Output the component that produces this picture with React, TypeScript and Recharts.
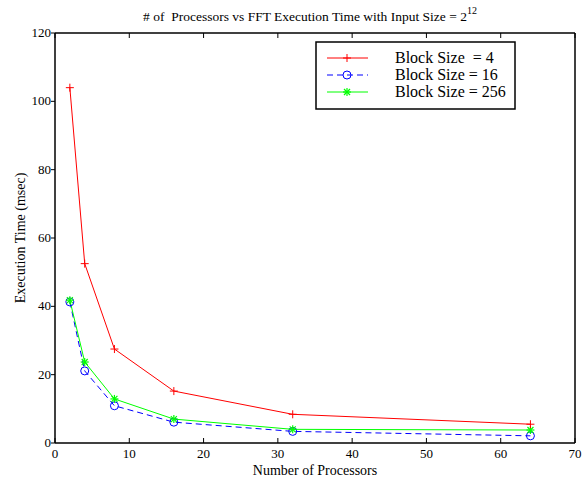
import React from 'react'
import {
  LineChart,
  Line,
  XAxis,
  YAxis,
  Customized,
} from 'recharts'

const processors = [2, 4, 8, 16, 32, 64]
const block4 = [104, 52.5, 27.5, 15.2, 8.4, 5.5]
const block16 = [41.3, 21.1, 10.9, 6.1, 3.4, 2.1]
const block256 = [41.8, 23.7, 12.9, 7.0, 4.0, 3.8]
const xTicks = [0, 10, 20, 30, 40, 50, 60, 70]
const yTicks = [0, 20, 40, 60, 80, 100, 120]

const chartData = processors.map((p, i) => ({
  p,
  b4: block4[i],
  b16: block16[i],
  b256: block256[i],
}))

const FONT = '"Liberation Serif", "Times New Roman", serif'

const PlusDot = (props: any) => {
  const { cx, cy } = props
  if (cx == null || cy == null) return null
  return (
    <g stroke="#ff0000" strokeWidth={1}>
      <line x1={cx - 4} x2={cx + 4} y1={cy} y2={cy} />
      <line x1={cx} x2={cx} y1={cy - 4} y2={cy + 4} />
    </g>
  )
}

const CircleDot = (props: any) => {
  const { cx, cy } = props
  if (cx == null || cy == null) return null
  return <circle cx={cx} cy={cy} r={4} fill="none" stroke="#0000ff" strokeWidth={1} />
}

const StarDot = (props: any) => {
  const { cx, cy } = props
  if (cx == null || cy == null) return null
  return (
    <g stroke="#00ff00" strokeWidth={1.2}>
      <line x1={cx - 4} x2={cx + 4} y1={cy} y2={cy} />
      <line x1={cx} x2={cx} y1={cy - 4} y2={cy + 4} />
      <line x1={cx - 3} x2={cx + 3} y1={cy - 3} y2={cy + 3} />
      <line x1={cx - 3} x2={cx + 3} y1={cy + 3} y2={cy - 3} />
    </g>
  )
}

const BottomTick = (props: any) => {
  const { x, y, payload } = props
  return (
    <g>
      <line x1={x} x2={x} y1={y} y2={y - 5} stroke="#000" strokeWidth={1} />
      <text x={x} y={y + 15} textAnchor="middle" fontFamily={FONT} fontSize={13} fill="#000">
        {payload.value}
      </text>
    </g>
  )
}

const TopTick = (props: any) => {
  const { x, y } = props
  return <line x1={x} x2={x} y1={y} y2={y + 5} stroke="#000" strokeWidth={1} />
}

const LeftTick = (props: any) => {
  const { x, y, payload } = props
  return (
    <g>
      <line x1={x - 4} x2={x} y1={y} y2={y} stroke="#000" strokeWidth={1} />
      <text x={x - 4} y={y + 4} textAnchor="end" fontFamily={FONT} fontSize={13} fill="#000">
        {payload.value}
      </text>
    </g>
  )
}

const RightTick = (props: any) => {
  const { x, y } = props
  return <line x1={x} x2={x - 5} y1={y} y2={y} stroke="#000" strokeWidth={1} />
}

const legendItems = [
  { label: 'Block Size  = 4', color: '#ff0000', dash: undefined, marker: 'plus' },
  { label: 'Block Size = 16', color: '#0000ff', dash: '6 4', marker: 'circle' },
  { label: 'Block Size = 256', color: '#00ff00', dash: undefined, marker: 'star' },
]

const Overlay = () => (
  <g fontFamily={FONT} fill="#000">
    <text x={310} y={21} textAnchor="middle" fontSize={13.5}>
      <tspan style={{ whiteSpace: 'pre' }}>{'# of  Processors vs FFT Execution Time with Input Size = 2'}</tspan>
      <tspan fontSize={10} dy={-7}>12</tspan>
    </text>
    <text x={315} y={475} textAnchor="middle" fontSize={14}>
      Number of Processors
    </text>
    <text x={25} y={238} textAnchor="middle" fontSize={14} transform="rotate(-90 25 238)">
      Execution Time (msec)
    </text>
    <rect x={316} y={42} width={199} height={67} fill="#fff" stroke="#000" strokeWidth={1.5} />
    {legendItems.map((it, i) => {
      const cy = 58 + i * 17
      return (
        <g key={it.label}>
          <line x1={327} x2={368} y1={cy} y2={cy} stroke={it.color} strokeWidth={1} strokeDasharray={it.dash} />
          {it.marker === 'plus' && <PlusDot cx={347} cy={cy} />}
          {it.marker === 'circle' && <CircleDot cx={347} cy={cy} />}
          {it.marker === 'star' && <StarDot cx={347} cy={cy} />}
          <text x={395} y={cy + 5} fontSize={16} style={{ whiteSpace: 'pre' }}>
            {it.label}
          </text>
        </g>
      )
    })}
  </g>
)

export default function App() {
  return (
    <div style={{ position: 'absolute', left: 0, top: 0, background: '#fff' }}>
      <LineChart
        width={586}
        height={479}
        data={chartData}
        margin={{ top: 32, right: 10, bottom: 35, left: 54 }}
      >
        <XAxis
          xAxisId="bottom"
          dataKey="p"
          type="number"
          domain={[0, 70]}
          ticks={xTicks}
          height={1}
          tickSize={0}
          tickMargin={0}
          tick={<BottomTick />}
          tickLine={false}
          axisLine={{ stroke: '#000', strokeWidth: 1.5 }}
        />
        <XAxis
          xAxisId="top"
          orientation="top"
          dataKey="p"
          type="number"
          domain={[0, 70]}
          ticks={xTicks}
          height={1}
          tickSize={0}
          tickMargin={0}
          tick={<TopTick />}
          tickLine={false}
          axisLine={{ stroke: '#000', strokeWidth: 1.5 }}
        />
        <YAxis
          yAxisId="left"
          type="number"
          domain={[0, 120]}
          ticks={yTicks}
          width={1}
          tickSize={0}
          tickMargin={0}
          tick={<LeftTick />}
          tickLine={false}
          axisLine={{ stroke: '#000', strokeWidth: 1.5 }}
        />
        <YAxis
          yAxisId="right"
          orientation="right"
          type="number"
          domain={[0, 120]}
          ticks={yTicks}
          width={1}
          tickSize={0}
          tickMargin={0}
          tick={<RightTick />}
          tickLine={false}
          axisLine={{ stroke: '#000', strokeWidth: 1.5 }}
        />
        <Line
          xAxisId="bottom"
          yAxisId="left"
          dataKey="b16"
          stroke="#0000ff"
          strokeWidth={1}
          strokeDasharray="6 4"
          dot={<CircleDot />}
          isAnimationActive={false}
        />
        <Line
          xAxisId="bottom"
          yAxisId="left"
          dataKey="b256"
          stroke="#00ff00"
          strokeWidth={1}
          dot={<StarDot />}
          isAnimationActive={false}
        />
        <Line
          xAxisId="bottom"
          yAxisId="left"
          dataKey="b4"
          stroke="#ff0000"
          strokeWidth={1}
          dot={<PlusDot />}
          isAnimationActive={false}
        />
        <Customized component={<Overlay />} />
      </LineChart>
    </div>
  )
}
